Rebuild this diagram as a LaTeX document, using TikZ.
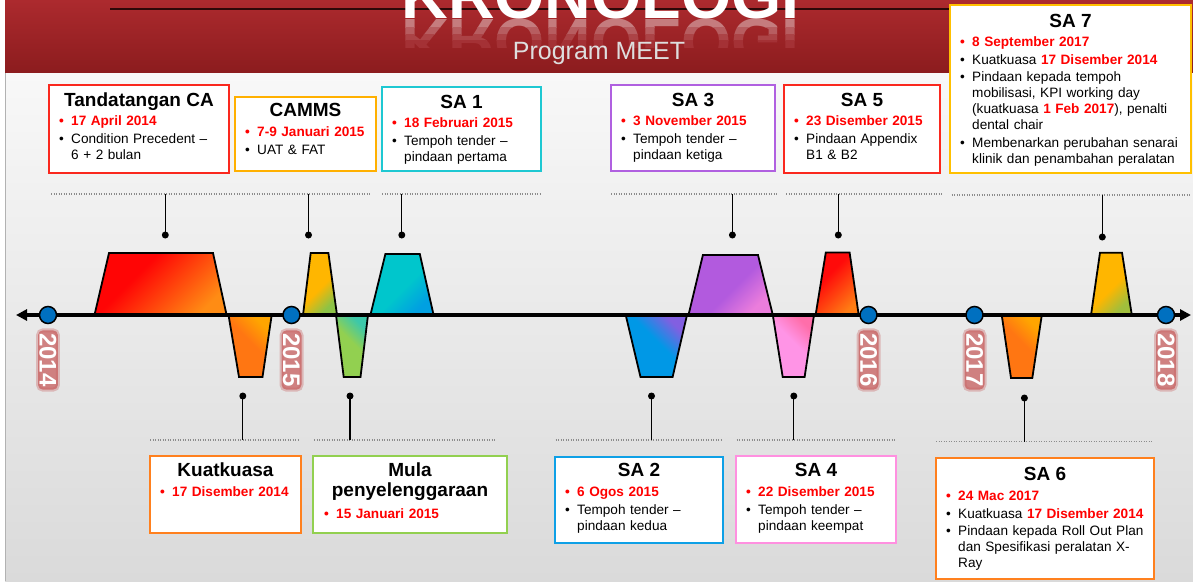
\documentclass[tikz,border=0pt]{standalone}
\usepackage{fontspec}
\setmainfont{Liberation Sans}
\usetikzlibrary{arrows.meta}
\definecolor{hdtop}{RGB}{172,42,46}
\definecolor{hdbot}{RGB}{140,28,30}
\definecolor{hdmid}{RGB}{158,36,40}
\definecolor{bgtop}{RGB}{248,248,248}
\definecolor{bgbot}{RGB}{218,218,218}
\definecolor{bred}{RGB}{250,40,30}
\definecolor{borange}{RGB}{255,176,0}
\definecolor{bcyan}{RGB}{30,200,210}
\definecolor{bpurple}{RGB}{176,96,224}
\definecolor{byellow}{RGB}{255,192,0}
\definecolor{borgtwo}{RGB}{255,128,30}
\definecolor{bgreen}{RGB}{146,208,80}
\definecolor{bblue}{RGB}{14,160,230}
\definecolor{bpink}{RGB}{255,144,224}
\definecolor{yrglow}{RGB}{200,95,95}
\definecolor{dotblue}{RGB}{0,112,192}
\definecolor{txtred}{RGB}{255,0,0}
\definecolor{meetgray}{RGB}{222,222,222}
\colorlet{cA}{red}\colorlet{cB}{orange}
\pgfdeclareverticalshading[cA,cB]{trapsh}{100bp}{color(0bp)=(cB); color(27bp)=(cB); color(47bp)=(cA); color(100bp)=(cA)}
\pgfdeclareverticalshading[cA,cB]{trapsm}{100bp}{color(0bp)=(cB); color(25bp)=(cB); color(62bp)=(cA); color(100bp)=(cA)}
\newcommand\bitem[2][]{{\hangindent=12pt\hangafter=1\noindent#1\rule{0pt}{10pt}\makebox[12pt][l]{\textbullet}#2\par}\vspace{1.5pt}}
\newcommand\rd[1]{{\color{txtred}\bfseries #1}}
\newcommand\redb{\color{txtred}\bfseries}
\begin{document}
\begin{tikzpicture}[x=1pt,y=-1pt,
 bx/.style={draw=#1, line width=2.6pt, fill=white, inner sep=0pt, outer sep=0pt, anchor=north west},
 ttl/.style={font=\fontsize{19}{20}\selectfont\bfseries, anchor=base, inner sep=0pt, align=center},
 body/.style={font=\fontsize{13.6}{16}\selectfont, anchor=north west, inner sep=0pt, text width=#1, align=left},
 trap/.style={draw=black, line width=1.8pt, line join=miter},
 upt/.style args={#1/#2/#3}{trap, /utils/exec={\definecolor{cA}{RGB}{#1}\definecolor{cB}{RGB}{#2}}, shading=#3, shading angle=45},
 dnt/.style args={#1/#2/#3}{trap, /utils/exec={\definecolor{cA}{RGB}{#1}\definecolor{cB}{RGB}{#2}}, shading=#3, shading angle=135},
 dotl/.style={draw=black!45, line width=1.1pt, dash pattern=on 1.2pt off 1.3pt},
 conn/.style={draw=black, line width=1.3pt},
 pin/.style={circle, fill=black, inner sep=0pt, minimum size=7pt},
 yrdot/.style={circle, fill=dotblue, draw=black, line width=1.5pt, inner sep=0pt, minimum size=17pt},
 yr/.style={rotate=-90, text=white, font=\fontsize{24}{24}\selectfont\bfseries, fill=yrglow, fill opacity=0.75, text opacity=1, draw=yrglow, draw opacity=0.35, line width=4pt, rounded corners=5pt, inner xsep=3pt, inner ysep=1.5pt},
 kro/.style={font=\fontsize{64.5}{64}\selectfont\bfseries, anchor=base, inner sep=0pt}
]
\useasboundingbox (0,0) rectangle (1193,581);
\clip (0,0) rectangle (1193,581);
% background
\fill[white] (0,0) rectangle (1193,581);
\fill[top color=bgtop, bottom color=bgbot] (5,72) rectangle (1193,581);
\draw[black!30, line width=1pt] (5,72) -- (5,581);
% header
\fill[top color=hdtop, bottom color=hdbot] (5,0) rectangle (1193,72);
\draw[line width=2pt, color={rgb,255:red,45;green,8;blue,8}] (110,9) -- (950,9);
\node[kro, text=white] (kro) at (600.5,18.3) {KRONOLOGI};
\begin{scope}
 \clip (300,19) rectangle (900,27);
 \node[kro, text=white!40!hdmid] (kroA) at (600.5,19.5) {\scalebox{1}[-1]{KRONOLOGI}};
\end{scope}
\begin{scope}
 \clip (300,27) rectangle (900,34);
 \node[kro, text=white!26!hdmid] (kroB) at (600.5,19.5) {\scalebox{1}[-1]{KRONOLOGI}};
\end{scope}
\begin{scope}
 \clip (300,34) rectangle (900,40);
 \node[kro, text=white!14!hdmid] (kroC) at (600.5,19.5) {\scalebox{1}[-1]{KRONOLOGI}};
\end{scope}
\begin{scope}
 \clip (300,40) rectangle (900,47);
 \node[kro, text=white!6!hdmid] (kroD) at (600.5,19.5) {\scalebox{1}[-1]{KRONOLOGI}};
\end{scope}
\node[font=\fontsize{25}{25}\selectfont, text=meetgray, anchor=base, inner sep=0pt] (meet) at (599,59.3) {Program MEET};

% dotted guide lines
\coordinate (t1a) at (51,194);   \coordinate (t1b) at (231.5,194);
\coordinate (t2a) at (234,194);  \coordinate (t2b) at (370.5,194);
\coordinate (t3a) at (382,194);  \coordinate (t3b) at (541.5,194);
\coordinate (t4a) at (611,194);  \coordinate (t4b) at (776.5,194);
\coordinate (t5a) at (786,194);  \coordinate (t5b) at (942,194);
\coordinate (t6a) at (951.5,195);\coordinate (t6b) at (1191,195);
\coordinate (b1a) at (150,440);  \coordinate (b1b) at (299,440);
\coordinate (b2a) at (314,440);  \coordinate (b2b) at (494.7,440);
\coordinate (b3a) at (555.5,440);\coordinate (b3b) at (721.5,440);
\coordinate (b4a) at (736.7,440);\coordinate (b4b) at (896.5,440);
\coordinate (b5a) at (936,441.5);\coordinate (b5b) at (1153,441.5);
\foreach \s in {t1,t2,t3,t4,t5,t6,b1,b2,b3,b4,b5} \draw[dotl] (\s a) -- (\s b);

% pins and connectors
\node[pin] (p1) at (165.3,235) {};
\node[pin] (p2) at (308.5,235) {};
\node[pin] (p3) at (401.8,235) {};
\node[pin] (p4) at (732.4,235) {};
\node[pin] (p5) at (838.3,235) {};
\node[pin] (p6) at (1102.3,237) {};
\node[pin] (q1) at (242.8,396) {};
\node[pin] (q2) at (350,396) {};
\node[pin] (q3) at (651.5,396) {};
\node[pin] (q4) at (793.8,396) {};
\node[pin] (q5) at (1024.4,398) {};
\draw[conn] (p1.center) -- (p1 |- t1a);
\draw[conn] (p2.center) -- (p2 |- t2a);
\draw[conn] (p3.center) -- (p3 |- t3a);
\draw[conn] (p4.center) -- (p4 |- t4a);
\draw[conn] (p5.center) -- (p5 |- t5a);
\draw[conn] (p6.center) -- (p6 |- t6a);
\draw[conn] (q1.center) -- (q1 |- b1a);
\draw[conn] (q2.center) -- (q2 |- b2a);
\draw[conn] (q3.center) -- (q3 |- b3a);
\draw[conn] (q4.center) -- (q4 |- b4a);
\draw[conn] (q5.center) -- (q5 |- b5a);

% trapezoids (up: main colour / bottom-right corner colour; down: main / top-right corner)
\draw[upt={255,5,5/255,140,20/trapsm}]
 (94.5,315) -- (109,253) -- (213,253) -- (226.6,315) -- cycle;
\draw[dnt={255,118,18/255,165,0/trapsh}]
 (228.5,315) -- (239,377) -- (262.5,377) -- (271.7,315) -- cycle;
\draw[upt={255,182,0/140,195,70/trapsh}]
 (303,315) -- (310.7,253) -- (328.4,253) -- (337,315) -- cycle;
\draw[dnt={146,208,80/60,200,170/trapsh}]
 (336,315) -- (343.7,377) -- (360.5,377) -- (368,315) -- cycle;
\draw[upt={0,198,204/0,160,225/trapsh}]
 (370.4,315) -- (385.4,254) -- (419.8,254) -- (433.6,315) -- cycle;
\draw[dnt={0,152,230/130,95,225/trapsh}]
 (625.7,315) -- (640.5,377) -- (672.6,377) -- (687,315) -- cycle;
\draw[upt={178,90,222/235,125,220/trapsh}]
 (688.5,315) -- (702.9,255) -- (758,255) -- (772.8,315) -- cycle;
\draw[dnt={255,148,230/255,110,170/trapsh}]
 (772.8,315) -- (782.7,377) -- (804.6,377) -- (814,315) -- cycle;
\draw[upt={255,10,10/255,125,20/trapsm}]
 (815.6,315) -- (825.8,252.5) -- (849.6,252.5) -- (858.7,315) -- cycle;
\draw[dnt={255,118,18/255,165,0/trapsh}]
 (1001.7,315) -- (1011,378) -- (1032.3,378) -- (1041.8,315) -- cycle;
\draw[upt={255,182,0/160,190,60/trapsh}]
 (1091,315) -- (1100,252.7) -- (1122,252.7) -- (1131.8,315) -- cycle;

% axis
\coordinate (axL) at (16,315);
\coordinate (axR) at (1191,315);
\draw[line width=3.5pt, {Triangle[length=11pt,width=11pt]}-{Triangle[length=11pt,width=11pt]}] (axL) -- (axR);

% years
\foreach \n/\x in {14/48, 15/291.5, 16/868.5, 17/974.5, 18/1166}{
  \node[yrdot] (c\n) at (\x,315) {};
  \node[yr] (y\n) at (\x,360) {20\n};
}

% boxes top
\node[bx=bred, minimum width=180pt, minimum height=88pt] (tca) at (49,85) {};
\node[ttl] (tcaT) at ([yshift=-21pt]tca.north) {Tandatangan CA};
\node[body=166pt] (tcaB) at ([xshift=10pt,yshift=-30.7pt]tca.north west) {%
\bitem[\redb]{17 April 2014}
\bitem{Condition Precedent --\newline 6 + 2 bulan}};

\node[bx=borange, minimum width=141pt, minimum height=74pt] (camms) at (235,97) {};
\node[ttl] (cammsT) at ([yshift=-19.7pt]camms.north) {CAMMS};
\node[body=128pt] (cammsB) at ([xshift=10pt,yshift=-29.7pt]camms.north west) {%
\bitem[\redb]{7-9 Januari 2015}
\bitem{UAT \& FAT}};

\node[bx=bcyan, minimum width=159pt, minimum height=84pt] (sa1) at (382,87) {};
\node[ttl] (sa1T) at ([yshift=-21.3pt]sa1.north) {SA 1};
\node[body=146pt] (sa1B) at ([xshift=10pt,yshift=-30.3pt]sa1.north west) {%
\bitem[\redb]{18 Februari 2015}
\bitem{Tempoh tender --\newline pindaan pertama}};

\node[bx=bpurple, minimum width=164pt, minimum height=86pt] (sa3) at (611,85) {};
\node[ttl] (sa3T) at ([yshift=-21pt]sa3.north) {SA 3};
\node[body=150pt] (sa3B) at ([xshift=10pt,yshift=-30.7pt]sa3.north west) {%
\bitem[\redb]{3 November 2015}
\bitem{Tempoh tender --\newline pindaan ketiga}};

\node[bx=bred, minimum width=156pt, minimum height=88pt] (sa5) at (784,85) {};
\node[ttl] (sa5T) at ([yshift=-21pt]sa5.north) {SA 5};
\node[body=143pt] (sa5B) at ([xshift=10pt,yshift=-30.7pt]sa5.north west) {%
\bitem[\redb]{23 Disember 2015}
\bitem{Pindaan Appendix\newline B1 \& B2}};

\node[bx=byellow, minimum width=241pt, minimum height=168pt] (sa7) at (950,5) {};
\node[ttl] (sa7T) at ([yshift=-22.3pt]sa7.north) {SA 7};
\node[body=228pt] (sa7B) at ([xshift=10pt,yshift=-31.7pt]sa7.north west) {%
\bitem[\redb]{8 September 2017}
\bitem{Kuatkuasa \rd{17 Disember 2014}}
\bitem{Pindaan kepada tempoh\newline mobilisasi, KPI working day\newline (kuatkuasa \rd{1 Feb 2017}), penalti\newline dental chair}
\bitem{Membenarkan perubahan senarai\newline klinik dan penambahan peralatan}};

% boxes bottom
\node[bx=borgtwo, minimum width=151pt, minimum height=77pt] (kua) at (150,456) {};
\node[ttl] (kuaT) at ([yshift=-20pt]kua.north) {Kuatkuasa};
\node[body=138pt] (kuaB) at ([xshift=10pt,yshift=-30.7pt]kua.north west) {%
\bitem[\redb]{17 Disember 2014}};

\node[bx=bgreen, minimum width=194pt, minimum height=77pt] (mula) at (313,456) {};
\node[ttl, anchor=north] (mulaT) at ([yshift=-6.2pt]mula.north) {Mula\\penyelenggaraan};
\node[body=180pt] (mulaB) at ([xshift=11pt,yshift=-52.3pt]mula.north west) {%
\bitem[\redb]{15 Januari 2015}};

\node[bx=bblue, minimum width=168pt, minimum height=86pt] (sa2) at (555,457) {};
\node[ttl] (sa2T) at ([yshift=-19.7pt]sa2.north) {SA 2};
\node[body=155pt] (sa2B) at ([xshift=10pt,yshift=-29.7pt]sa2.north west) {%
\bitem[\redb]{6 Ogos 2015}
\bitem{Tempoh tender --\newline pindaan kedua}};

\node[bx=bpink, minimum width=160pt, minimum height=87pt] (sa4) at (736,456) {};
\node[ttl] (sa4T) at ([yshift=-20.7pt]sa4.north) {SA 4};
\node[body=147pt] (sa4B) at ([xshift=10pt,yshift=-30.7pt]sa4.north west) {%
\bitem[\redb]{22 Disember 2015}
\bitem{Tempoh tender --\newline pindaan keempat}};

\node[bx=borgtwo, minimum width=218pt, minimum height=121pt] (sa6) at (936,458) {};
\node[ttl] (sa6T) at ([yshift=-22pt]sa6.north) {SA 6};
\node[body=206pt] (sa6B) at ([xshift=10pt,yshift=-32.7pt]sa6.north west) {%
\bitem[\redb]{24 Mac 2017}
\bitem{Kuatkuasa \rd{17 Disember 2014}}
\bitem{Pindaan kepada Roll Out Plan\newline dan Spesifikasi peralatan X-\newline Ray}};
\end{tikzpicture}
\end{document}
